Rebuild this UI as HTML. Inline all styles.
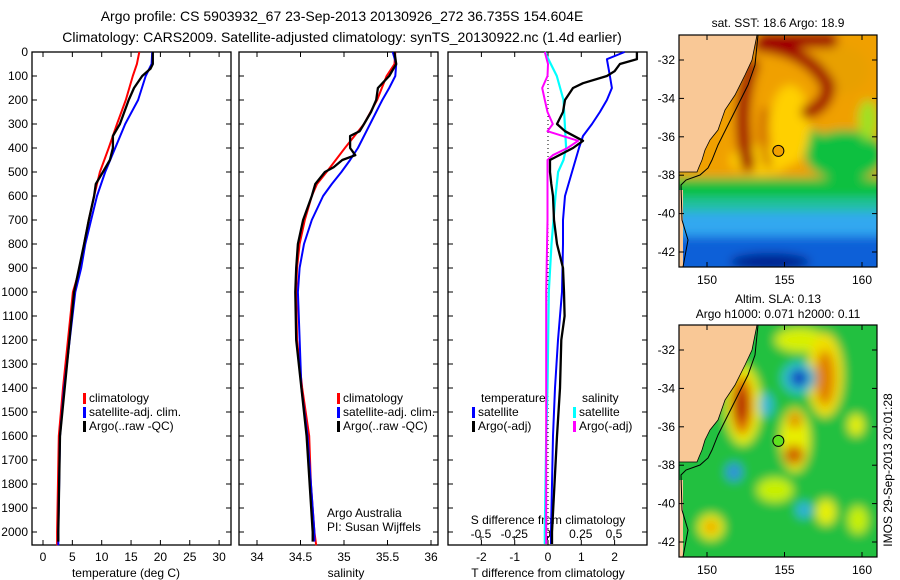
<!DOCTYPE html>
<html><head><meta charset="utf-8">
<style>
html,body{margin:0;padding:0;background:#fff;}
svg{display:block;font-family:"Liberation Sans",sans-serif;}
</style></head>
<body>
<svg id="fig" width="900" height="580" viewBox="0 0 900 580" xmlns="http://www.w3.org/2000/svg">
<defs>
<filter id="blur1" x="-20%" y="-20%" width="140%" height="140%"><feGaussianBlur stdDeviation="5"/></filter>
<clipPath id="clip1"><rect x="679" y="35" width="198" height="232"/></clipPath>
<clipPath id="clip2"><rect x="679" y="325" width="198" height="232"/></clipPath>
</defs>
<text x="342" y="21" font-size="14" text-anchor="middle">Argo profile: CS 5903932_67 23-Sep-2013 20130926_272 36.735S 154.604E</text>
<text x="342" y="42" font-size="14" text-anchor="middle">Climatology: CARS2009. Satellite-adjusted climatology: synTS_20130922.nc (1.4d earlier)</text>
<g id="panels"></g>
<g id="maps"></g>
<text transform="translate(892,470) rotate(-90)" font-size="12" text-anchor="middle">IMOS 29-Sep-2013 20:01:28</text>
</svg>
<script>
// ---------- DATA ----------
const depthsTempRed = [0,50,100,200,300,400,500,600,700,800,900,1000,1400,1600,2000,2055];
const tempClim      = [16.4,16.0,15.3,14.1,12.6,11.2,9.7,8.7,7.8,7.0,6.3,5.1,3.4,2.7,2.4,2.4];
const depthsTempBlue = [0,50,100,200,300,400,500,600,700,800,900,1000,1400,1600,2000,2055];
const tempSat        = [18.6,18.5,17.5,16.2,14.0,12.3,10.6,9.2,8.2,7.2,6.5,5.5,3.6,2.9,2.6,2.6];
const depthsTempArgo = [0,50,70,100,150,200,300,350,400,450,500,550,600,700,800,1000,1400,1600,2000,2040];
const tempArgo       = [18.7,18.7,18.3,16.9,15.5,14.6,13.1,11.9,11.9,11.4,10.2,9.0,8.7,7.8,7.0,5.3,3.7,2.9,2.6,2.6];

const depthsSalRed = [0,50,100,200,300,400,500,550,600,700,800,900,1000,1200,1400,1600,1800,2000,2055];
const salClim      = [35.59,35.58,35.49,35.38,35.23,35.01,34.80,34.69,34.63,34.55,34.49,34.46,34.45,34.46,34.52,34.60,34.62,34.66,34.68];
const depthsSalBlue = [0,50,100,150,200,300,400,450,500,550,600,700,800,900,1000,1400,1600,2000,2040];
const salSat        = [35.56,35.60,35.59,35.52,35.44,35.30,35.16,35.07,34.97,34.86,34.76,34.63,34.54,34.49,34.47,34.51,34.58,34.66,34.66];
const depthsSalArgo = [0,50,100,150,200,250,300,330,350,400,430,450,480,500,550,600,700,800,900,1000,1200,1400,1600,2000,2040];
const salArgo       = [35.58,35.60,35.52,35.39,35.37,35.31,35.23,35.18,35.07,35.07,35.13,34.98,34.88,34.78,34.67,34.63,34.53,34.47,34.45,34.44,34.45,34.51,34.57,34.64,34.64];

const depthsDiffT = [0,30,50,80,100,130,150,200,250,300,330,370,400,450,500,550,600,700,800,850,900,1000,1100,1200,1400,1600,2000,2050];
const tDiffArgo   = [2.67,2.67,2.16,2.0,1.77,1.05,0.75,0.51,0.45,0.27,0.51,1.05,0.75,0.06,0.06,0.1,0.15,0.18,0.27,0.36,0.45,0.48,0.5,0.4,0.36,0.27,0.12,0.12];
const depthsDiffTS = [0,30,100,150,200,250,300,350,400,500,600,700,800,1000,1200,1400,1600,2000,2050];
const tDiffSat     = [2.3,1.77,1.86,1.92,1.77,1.56,1.32,1.05,0.93,0.72,0.51,0.45,0.45,0.42,0.3,0.21,0.15,0.09,0.09];
const depthsDiffS = [0,50,100,150,200,250,300,330,370,400,430,450,500,700,1000,1400,2000,2050];
const sDiffArgo   = [-0.02,0.004,0,-0.04,-0.02,0.0,0.04,0.0,0.23,0.15,0.04,0,0,0,-0.01,-0.01,-0.01,-0.01];
const depthsDiffSS = [0,100,200,300,400,450,500,600,800,1000,1400,1600,2000,2050];
const sDiffSat     = [-0.02,0.07,0.12,0.13,0.14,0.12,0.08,0.06,0.03,0.01,0,-0.01,-0.02,-0.02];

const depthTicks = [0,100,200,300,400,500,600,700,800,900,1000,1100,1200,1300,1400,1500,1600,1700,1800,1900,2000];
const tempTicks = [0,5,10,15,20,25,30];
const salTicks = [34,34.5,35,35.5,36];
const salTickLabels = ["34","34.5","35","35.5","36"];
const tDiffTicks = [-2,-1,0,1,2];
const sDiffTicks = [-0.5,-0.25,0,0.25,0.5];
const sDiffTickLabels = ["-0.5","-0.25","0","0.25","0.5"];
const lonTicks = [150,155,160];
const latTicks = [-32,-34,-36,-38,-40,-42];
const argoLon = [154.604];
const argoLat = [-36.735];

// ---------- SCALES ----------
const NS="http://www.w3.org/2000/svg";
const TOP=52, BOT=545;
const yD = d => TOP + d*0.24;
const xT = t => 43 + t*5.87;
const xS = s => 257 + (s-34)*87;
const xTd = t => 548 + t*33.3;
const xSd = s => 547.5 + s*133;
const lonX = l => 707 + (l-150)*15.5;
const latY = (l,off) => 60 + off + (-32 - l)*19.2;

function el(tag, attrs, parent){const e=document.createElementNS(NS,tag);for(const k in attrs)e.setAttribute(k,attrs[k]);parent.appendChild(e);return e;}
const P=document.getElementById('panels');
const M=document.getElementById('maps');

function line(parent,xs,ds,fx,color,w,name){
  const pts=xs.map((v,i)=>fx(v).toFixed(1)+','+yD(ds[i]).toFixed(1)).join(' ');
  const e=el('polyline',{points:pts,fill:'none',stroke:color,'stroke-width':w,'stroke-linejoin':'round'},parent);
  
  
}
function txt(parent,x,y,s,anchor,size,name){
  const e=el('text',{x:x,y:y,'font-size':size||12,'text-anchor':anchor||'start'},parent);
  e.textContent=s;
  
  
  return e;
}
function panelFrame(x0,name,yLabels){
  const g=el('g',{},P);
  
  
  el('rect',{x:x0,y:TOP,width:199,height:BOT-TOP,fill:'none',stroke:'#000','stroke-width':1.3},g);
  depthTicks.forEach(d=>{
    const y=yD(d);
    el('line',{x1:x0,y1:y,x2:x0+5,y2:y,stroke:'#000'},g);
    el('line',{x1:x0+199,y1:y,x2:x0+194,y2:y,stroke:'#000'},g);
    if(yLabels) txt(g,x0-4,y+4,String(d),'end',12,'depth-tick-label');
  });
  return g;
}
function legendEntry(g,x,y,color,label){
  const m=el('rect',{x:x,y:y-9,width:3,height:11,fill:color},g);
  
  
  txt(g,x+6,y,label,'start',12,'legend-entry');
}

// Panel 1: temperature
const g1=panelFrame(32,'temperature-panel',true);
tempTicks.forEach(t=>{const x=xT(t);el('line',{x1:x,y1:BOT,x2:x,y2:BOT-5,stroke:'#000'},g1);el('line',{x1:x,y1:TOP,x2:x,y2:TOP+5,stroke:'#000'},g1);txt(g1,x,561,String(t),'middle',12,'temperature-tick-label');});
txt(g1,126,577,'temperature (deg C)','middle',12,'x-axis-title-temperature');
line(g1,tempClim,depthsTempRed,xT,'#ff0000',2,'temp-climatology-line');
line(g1,tempSat,depthsTempBlue,xT,'#0000ff',2,'temp-satellite-line');
line(g1,tempArgo,depthsTempArgo,xT,'#000',2.3,'temp-argo-line');
legendEntry(g1,83,402,'#ff0000','climatology');
legendEntry(g1,83,416,'#0000ff','satellite-adj. clim.');
legendEntry(g1,83,430,'#000','Argo(..raw -QC)');

// Panel 2: salinity
const g2=panelFrame(239,'salinity-panel',false);
salTicks.forEach((s,i)=>{const x=xS(s);el('line',{x1:x,y1:BOT,x2:x,y2:BOT-5,stroke:'#000'},g2);el('line',{x1:x,y1:TOP,x2:x,y2:TOP+5,stroke:'#000'},g2);txt(g2,x,561,salTickLabels[i],'middle',12,'salinity-tick-label');});
txt(g2,346,577,'salinity','middle',12,'x-axis-title-salinity');
line(g2,salClim,depthsSalRed,xS,'#ff0000',2,'sal-climatology-line');
line(g2,salSat,depthsSalBlue,xS,'#0000ff',2,'sal-satellite-line');
line(g2,salArgo,depthsSalArgo,xS,'#000',2.3,'sal-argo-line');
legendEntry(g2,337,402,'#ff0000','climatology');
legendEntry(g2,337,416,'#0000ff','satellite-adj. clim.');
legendEntry(g2,337,430,'#000','Argo(..raw -QC)');
txt(g2,327,517,'Argo Australia','start',12,'credit-argo-australia');
txt(g2,327,531,'PI: Susan Wijffels','start',12,'credit-pi');

// Panel 3: differences
const g3=panelFrame(448,'difference-panel',false);
tDiffTicks.forEach(t=>{const x=xTd(t);el('line',{x1:x,y1:BOT,x2:x,y2:BOT-5,stroke:'#000'},g3);el('line',{x1:x,y1:TOP,x2:x,y2:TOP+5,stroke:'#000'},g3);txt(g3,x,561,String(t),'middle',12,'tdiff-tick-label');});
sDiffTicks.forEach((s,i)=>{const x=xSd(s);el('line',{x1:x,y1:BOT-9,x2:x,y2:BOT-5,stroke:'#000'},g3);txt(g3,x,538,sDiffTickLabels[i],'middle',12,'sdiff-tick-label');});
txt(g3,548,524,'S difference from climatology','middle',12,'sdiff-axis-title');
txt(g3,548,577,'T difference from climatology','middle',12,'tdiff-axis-title');
el('line',{x1:xTd(0),y1:TOP,x2:xTd(0),y2:BOT,stroke:'#000','stroke-dasharray':'1,3'},g3);
line(g3,sDiffSat,depthsDiffSS,xSd,'#00ffff',2.2,'sdiff-satellite-line');
line(g3,sDiffArgo,depthsDiffS,xSd,'#ff00ff',2,'sdiff-argo-line');
line(g3,tDiffSat,depthsDiffTS,xTd,'#0000ff',2,'tdiff-satellite-line');
line(g3,tDiffArgo,depthsDiffT,xTd,'#000',2.3,'tdiff-argo-line');
txt(g3,481,402,'temperature','start',12,'legend-title-temperature');
legendEntry(g3,472,416,'#0000ff','satellite');
legendEntry(g3,472,430,'#000','Argo(-adj)');
txt(g3,582,402,'salinity','start',12,'legend-title-salinity');
legendEntry(g3,573,416,'#00ffff','satellite');
legendEntry(g3,573,430,'#ff00ff','Argo(-adj)');

// ---------- MAPS ----------
function blobs(g,list){list.forEach(b=>{if(b[0]==='e')el('ellipse',{cx:b[1],cy:b[2],rx:b[3],ry:b[4],fill:b[5]},g);else if(b[0]==='r')el('rect',{x:b[1],y:b[2],width:b[3],height:b[4],fill:b[5]},g);else el('path',{d:b[1],fill:'none',stroke:b[2],'stroke-width':b[3],'stroke-linecap':'round'},g);});}
function mapFrame(off,name,clip,titleLines,list,dotColor){
  const g=el('g',{},M);
  
  
  const inner=el('g',{'clip-path':'url(#'+clip+')'},g);
  const bl=el('g',{filter:'url(#blur1)'},inner);
  blobs(bl,list);
  const land='M679,'+(35+off)+' L757,'+(35+off)+' L752,'+(60+off)+' L745,'+(75+off)+' L735,'+(95+off)+' L725,'+(110+off)+' L718,'+(130+off)+' L710,'+(140+off)+' L705,'+(150+off)+' L702,'+(160+off)+' L699,'+(167+off)+' L697,'+(172+off)+' L679,'+(172+off)+' Z';
  const l=el('path',{d:land,fill:'#f9c896',stroke:'#000','stroke-width':0.8},inner);
  
  
  el('path',{d:'M679,'+(190+off)+' L683,'+(190+off)+' L683,'+(267+off)+' L679,'+(267+off)+' Z',fill:'#f9c896'},inner);
  el('polyline',{points:[[758,35],[755,65],[748,85],[738,105],[728,125],[718,145],[712,160],[708,168],[700,175],[686,180],[681,185],[682,220],[688,240],[683,267]].map(p=>p[0]+','+(p[1]+off)).join(' '),fill:'none',stroke:'#000','stroke-width':1},inner);
  el('rect',{x:679,y:35+off,width:198,height:232,fill:'none',stroke:'#000','stroke-width':1.2},g);
  lonTicks.forEach(lo=>{const x=lonX(lo);el('line',{x1:x,y1:35+off,x2:x,y2:40+off,stroke:'#000'},g);el('line',{x1:x,y1:267+off,x2:x,y2:262+off,stroke:'#000'},g);txt(g,x,284+off,String(lo),'middle',12,'longitude-tick-label');});
  latTicks.forEach(la=>{const y=latY(la,off);el('line',{x1:679,y1:y,x2:684,y2:y,stroke:'#000'},g);el('line',{x1:877,y1:y,x2:872,y2:y,stroke:'#000'},g);txt(g,675,y+4,String(la),'end',12,'latitude-tick-label');});
  titleLines.forEach((t,i)=>txt(g,778,(titleLines.length===1?27:(i===0?13:28))+off,t,'middle',12,'map-title'));
  argoLon.forEach((lo,i)=>{const c=el('circle',{cx:lonX(lo),cy:latY(argoLat[i],off),r:5.5,fill:dotColor,stroke:'#000','stroke-width':1},g);
    
    });
}
mapFrame(0,'sst-map','clip1',['sat. SST: 18.6 Argo: 18.9'],[
 ['r',670,25,220,260,'#f0a000'],
 ['r',670,178,220,100,'#10c040'],
 ['r',670,198,220,80,'#20c0a0'],
 ['r',670,212,220,60,'#30a8f0'],
 ['r',670,236,220,40,'#1060d8'],
 ['e',770,262,40,9,'#002090'],
 ['e',845,155,40,25,'#10c040'],
 ['e',812,140,12,10,'#10c040'],
 ['e',868,120,10,20,'#a0e020'],
 ['e',790,125,20,40,'#ffd000'],
 ['e',760,160,30,15,'#ffd000'],
 ['e',840,70,30,25,'#e8a000'],
 ['p','M760,45 Q808,50 828,85 Q828,105 808,112','#a00000',14],
 ['p','M765,40 L830,40','#a00000',16],
 ['p','M752,65 Q736,110 748,165','#a00000',14],
 ['p','M765,110 Q760,140 768,165','#c05000',6]
],'#f0a000');
mapFrame(290,'sla-map','clip2',['Altim. SLA: 0.13','Argo h1000: 0.071 h2000: 0.11'],[
 ['r',670,315,220,260,'#20c040'],
 ['e',800,340,25,12,'#d8f000'],
 ['e',825,375,18,42,'#f0e000'],
 ['e',825,378,10,28,'#e08000'],
 ['e',743,405,18,40,'#e8f000'],
 ['e',742,405,11,30,'#e07000'],
 ['e',741,405,6,18,'#b02000'],
 ['e',799,378,17,16,'#30c0d0'],
 ['e',799,378,9,9,'#1040c0'],
 ['e',766,405,7,12,'#30b8d8'],
 ['e',795,440,15,32,'#e8f000'],
 ['e',795,420,7,9,'#e09000'],
 ['e',794,455,10,10,'#d06000'],
 ['e',734,472,8,9,'#3090e0'],
 ['e',711,527,13,13,'#e8f000'],
 ['e',711,527,7,7,'#f0a000'],
 ['e',804,510,8,8,'#30b0e0'],
 ['e',826,512,10,13,'#e8f000'],
 ['e',856,425,8,11,'#e8f000'],
 ['e',775,490,18,12,'#c8f000'],
 ['e',858,520,10,14,'#c8f000']
],'#60e020');
</script>
</body></html>
